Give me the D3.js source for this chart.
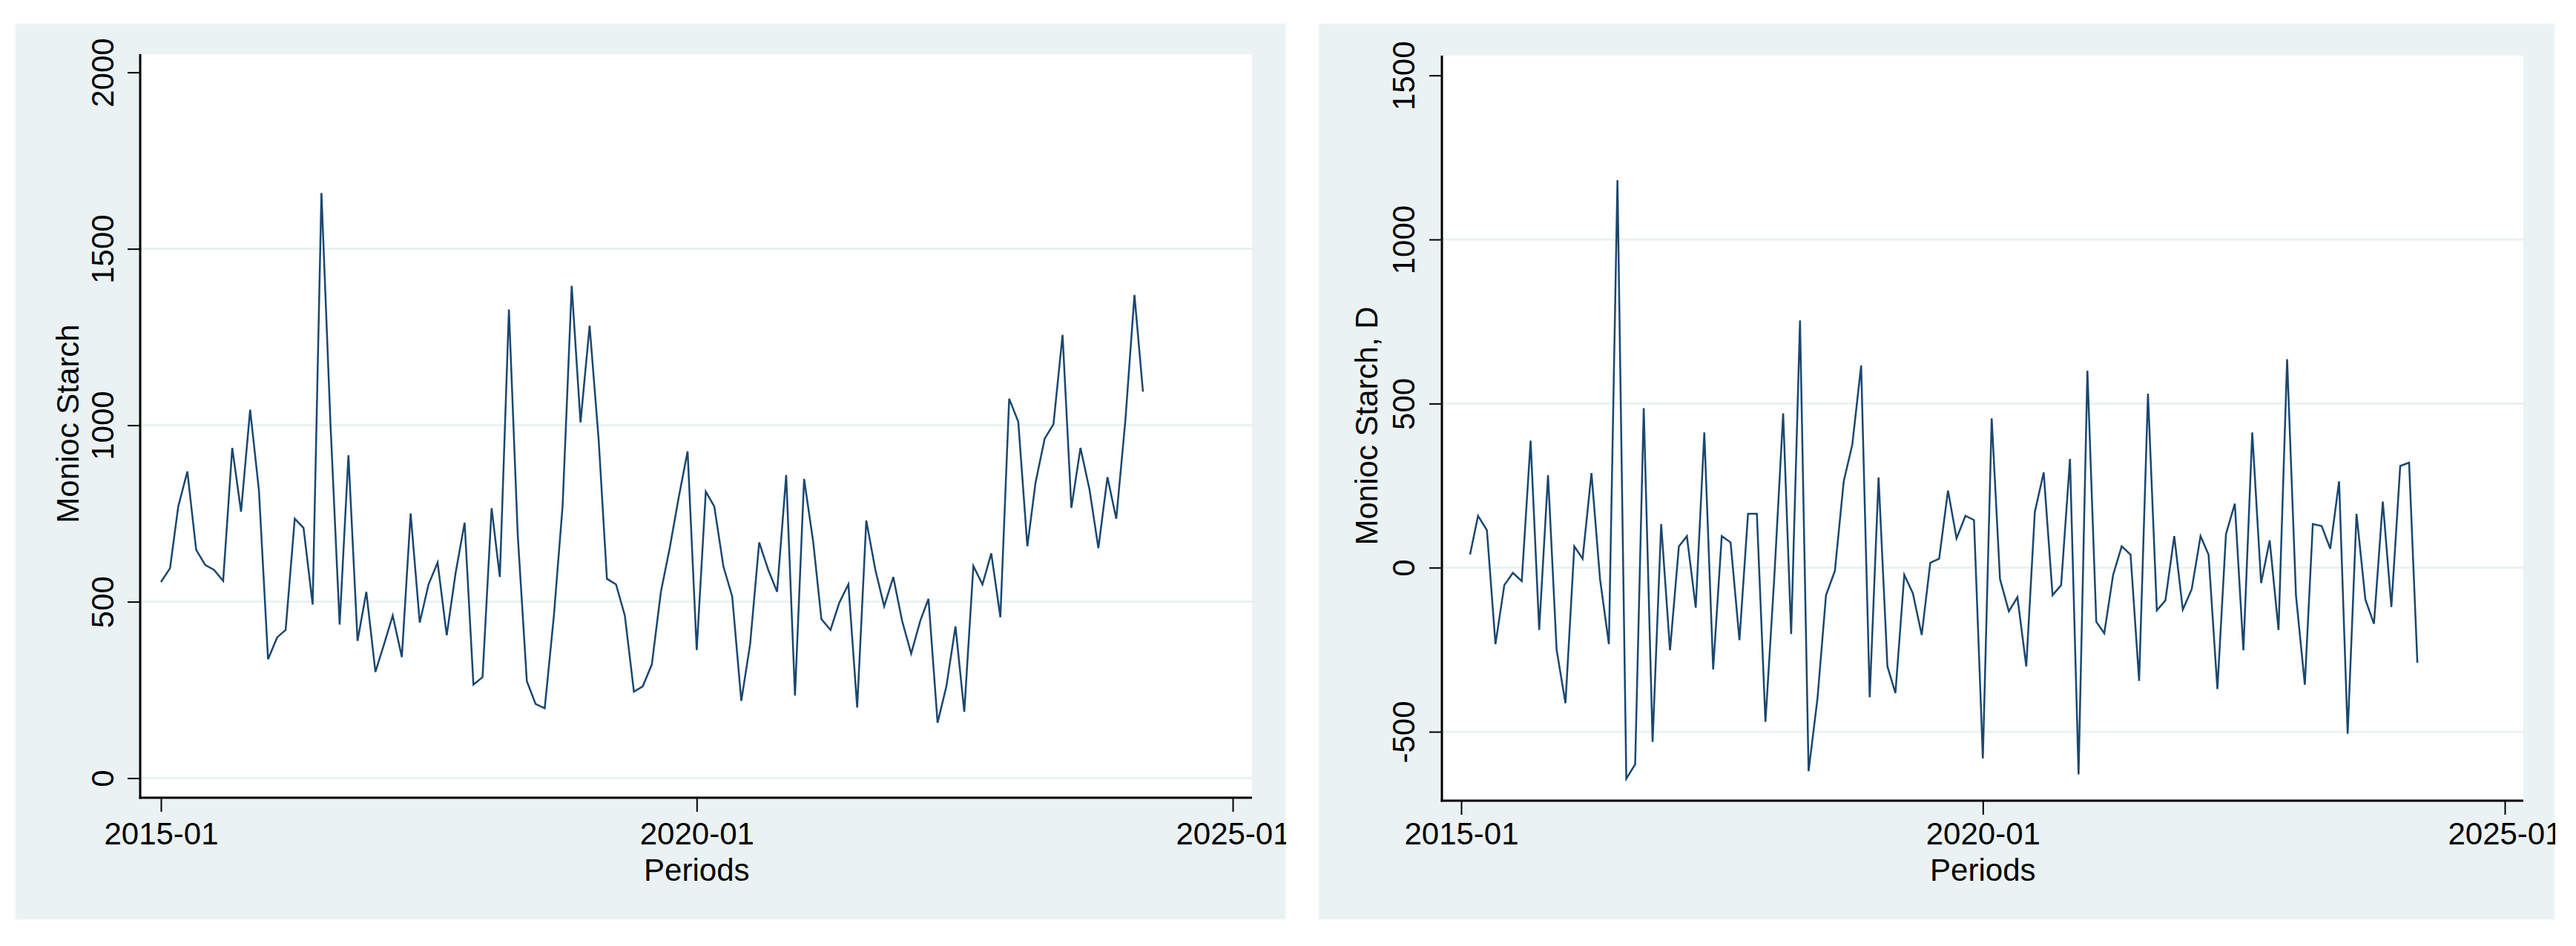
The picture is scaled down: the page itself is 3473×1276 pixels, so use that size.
<!DOCTYPE html>
<html>
<head>
<meta charset="utf-8">
<script src="https://cdn.jsdelivr.net/npm/d3@7"></script>
<style>
  body { margin: 0; background: #fff; }
  svg { display: block; }
</style>
</head>
<body>
<script>
// monthly periods, first one is 2015-01
const startPeriod = '2015-01';
const xTickLabels = ['2015-01', '2020-01', '2025-01'];

// Monioc Starch, levels 2015-01 .. 2024-03
const starch = [
  556, 595, 770, 869, 647, 604, 590, 559, 936, 755,
  1044, 815, 337, 399, 420, 735, 709, 492, 1658, 1000,
  435, 915, 389, 528, 301, 384, 461, 343, 750, 441,
  549, 611, 405, 580, 724, 265, 286, 765, 570, 1328,
  690, 275, 210, 198, 458, 772, 1395, 1008, 1282, 957,
  565, 549, 461, 245, 260, 322, 528, 652, 797, 926,
  363, 812, 770, 600, 515, 219, 379, 668, 590, 528,
  859, 234, 848, 670, 451, 420, 497, 549, 200, 730,
  590, 487, 570, 446, 353, 446, 508, 157, 260, 430,
  188, 601, 549, 637, 456, 1075, 1010, 657, 838, 962,
  1003, 1256, 766, 936, 817, 652, 853, 735, 1013, 1369,
  1095,
];

// Monioc Starch, D  2015-02 .. 2024-03
const starchD = [
  40, 158, 114, -233, -53, -16, -41, 387, -190, 282,
  -250, -413, 65, 27, 288, -35, -233, 1181, -643, -599,
  486, -531, 133, -252, 65, 96, -122, 412, -310, 96,
  77, -221, 164, 164, -470, -29, 470, -202, 753, -620,
  -400, -84, -10, 263, 375, 616, -395, 275, -301, -382,
  -22, -78, -205, 15, 27, 235, 89, 158, 145, -581,
  455, -35, -133, -90, -301, 170, 290, -84, -53, 331,
  -630, 600, -165, -200, -22, 65, 40, -345, 530, -130,
  -100, 96, -128, -66, 96, 40, -370, 102, 195, -252,
  412, -47, 83, -190, 635, -84, -357, 133, 127, 58,
  263, -506, 164, -97, -171, 201, -120, 310, 320, -290,
];

const levelTicks = [0, 500, 1000, 1500, 2000];
const diffTicks = [-500, 0, 500, 1000, 1500];

const font = '"Liberation Sans", Arial, sans-serif';
const parseMonth = d3.utcParse('%Y-%m');
const formatMonth = d3.utcFormat('%Y-%m');
const start = parseMonth(startPeriod);

const svg = d3
  .select('body')
  .append('svg')
  .attr('width', 3473)
  .attr('height', 1276);

function drawPanel(o) {
  const p = o.plot;
  const clipId = 'clip-' + o.id;

  // clip everything to the graph region (the tick label 2025-01 is cut)
  svg.append('clipPath')
    .attr('id', clipId)
    .append('rect')
    .attr('x', o.panel.x)
    .attr('y', o.panel.y)
    .attr('width', o.panel.w)
    .attr('height', o.panel.h);

  const g = svg.append('g').attr('clip-path', `url(#${clipId})`);

  // graph region background
  g.append('rect')
    .attr('x', o.panel.x)
    .attr('y', o.panel.y)
    .attr('width', o.panel.w)
    .attr('height', o.panel.h)
    .attr('fill', '#eaf2f3')
    .attr('stroke', '#f4f8f9')
    .attr('stroke-width', 4);

  // plot region
  g.append('rect')
    .attr('x', p.left)
    .attr('y', p.top)
    .attr('width', p.right - p.left)
    .attr('height', p.bottom - p.top)
    .attr('fill', '#fff');

  const x = d3
    .scaleUtc()
    .domain([parseMonth(xTickLabels[0]), parseMonth(xTickLabels[xTickLabels.length - 1])])
    .range(o.xRange);
  const y = d3
    .scaleLinear()
    .domain([o.yTicks[0], o.yTicks[o.yTicks.length - 1]])
    .range(o.yRange);

  // gridlines (none at the top tick)
  g.append('g')
    .selectAll('line')
    .data(o.yTicks.slice(0, -1))
    .enter()
    .append('line')
    .attr('x1', p.left)
    .attr('x2', p.right)
    .attr('y1', d => y(d))
    .attr('y2', d => y(d))
    .attr('stroke', '#eaf2f3')
    .attr('stroke-width', 3);

  // the series
  const series = o.values.map((v, i) => ({
    date: d3.utcMonth.offset(start, i + o.offset),
    value: v,
  }));

  g.append('path')
    .datum(series)
    .attr('fill', 'none')
    .attr('stroke', '#1a476f')
    .attr('stroke-width', 2.5)
    .attr('d', d3.line().x(d => x(d.date)).y(d => y(d.value)));

  // y axis
  const yAxis = g.append('g')
    .attr('transform', `translate(${p.left},0)`)
    .call(d3.axisLeft(y)
      .tickValues(o.yTicks)
      .tickSize(17)
      .tickFormat(d => String(d)));
  yAxis
    .attr('font-family', font)
    .attr('font-size', 42)
    .style('color', '#000');
  yAxis.select('.domain').remove();
  yAxis.selectAll('.tick line').attr('stroke-width', 2);
  yAxis.selectAll('.tick text')
    .attr('x', 0)
    .attr('dy', 0)
    .attr('text-anchor', 'middle')
    .attr('transform', `translate(${-o.yLabelGap},0) rotate(-90)`);

  // x axis
  const xAxis = g.append('g')
    .attr('transform', `translate(0,${p.bottom})`)
    .call(d3.axisBottom(x)
      .tickValues(xTickLabels.map(parseMonth))
      .tickSize(19)
      .tickFormat(formatMonth));
  xAxis
    .attr('font-family', font)
    .attr('font-size', 42)
    .style('color', '#000');
  xAxis.select('.domain').remove();
  xAxis.selectAll('.tick line').attr('stroke-width', 2);
  xAxis.selectAll('.tick text')
    .attr('y', 1139 - p.bottom)
    .attr('dy', 0);

  // axis lines
  g.append('line')
    .attr('x1', p.left).attr('x2', p.left)
    .attr('y1', p.top).attr('y2', p.bottom + 1.5)
    .attr('stroke', '#000').attr('stroke-width', 3);
  g.append('line')
    .attr('x1', p.left - 1.5).attr('x2', p.right)
    .attr('y1', p.bottom).attr('y2', p.bottom)
    .attr('stroke', '#000').attr('stroke-width', 3);

  // axis titles
  g.append('text')
    .attr('transform', `translate(${o.yTitleX},${(p.top + p.bottom) / 2 - 3}) rotate(-90)`)
    .attr('text-anchor', 'middle')
    .attr('font-family', font)
    .attr('font-size', 42)
    .attr('fill', '#000')
    .text(o.yTitle);

  g.append('text')
    .attr('x', x(parseMonth(xTickLabels[1])))
    .attr('y', 1188)
    .attr('text-anchor', 'middle')
    .attr('font-family', font)
    .attr('font-size', 42)
    .attr('fill', '#000')
    .text('Periods');
}

drawPanel({
  id: 'level',
  panel: { x: 20, y: 31, w: 1714, h: 1210 },
  plot: { left: 189, right: 1688, top: 73, bottom: 1076 },
  xRange: [217, 1662],
  yRange: [1049.6, 97.6],
  yTicks: levelTicks,
  yLabelGap: 36,
  yTitleX: 106,
  yTitle: 'Monioc Starch',
  values: starch,
  offset: 0,
});

drawPanel({
  id: 'diff',
  panel: { x: 1777, y: 31, w: 1668, h: 1210 },
  plot: { left: 1944, right: 3402, top: 75, bottom: 1080 },
  xRange: [1970, 3377],
  yRange: [987, 101.7],
  yTicks: diffTicks,
  yLabelGap: 37,
  yTitleX: 1857,
  yTitle: 'Monioc Starch, D',
  values: starchD,
  offset: 1,
});
</script>
</body>
</html>
